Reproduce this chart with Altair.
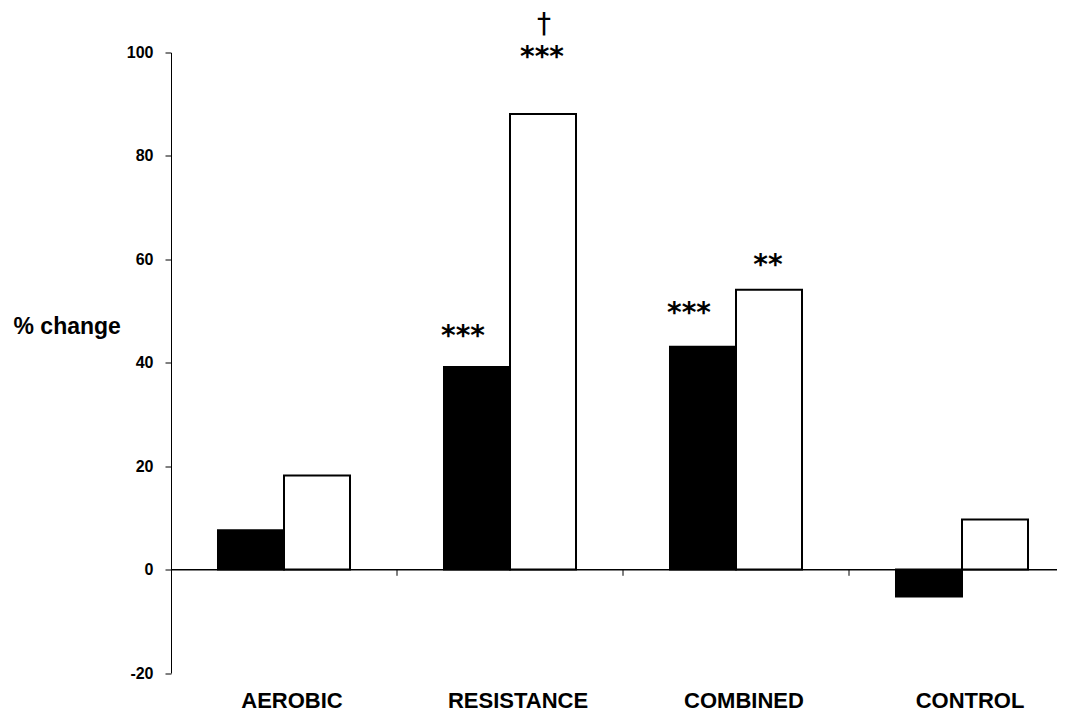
import altair as alt
import pandas as pd

categories = ["AEROBIC", "RESISTANCE", "COMBINED", "CONTROL"]
series = ["Series 1", "Series 2"]
series1_values = [7.6, 39.2, 43.1, -5.2]
series2_values = [18.2, 88.1, 54.1, 9.7]
y_ticks = [-20, 0, 20, 40, 60, 80, 100]

annot_category = ["RESISTANCE", "RESISTANCE", "RESISTANCE", "COMBINED", "COMBINED"]
annot_series = ["Series 1", "Series 2", "Series 2", "Series 1", "Series 2"]
annot_text = ["***", "***", "\u2020", "***", "**"]
annot_level = [46.4, 100.3, 105.5, 50.8, 60.1]

boundary_categories = ["RESISTANCE", "COMBINED", "CONTROL"]

bars_df = pd.DataFrame({
    "category": categories * 2,
    "series": [series[0]] * 4 + [series[1]] * 4,
    "value": series1_values + series2_values,
})
annot_df = pd.DataFrame({
    "category": annot_category,
    "series": annot_series,
    "text": annot_text,
    "level": annot_level,
})
bound_df = pd.DataFrame({"category": boundary_categories, "y0": [0] * 3, "y1": [-1.2] * 3})

FONT = "Liberation Sans"

x_scale = alt.Scale(domain=categories, range=[0, 904], paddingInner=0, paddingOuter=0)
y_scale = alt.Scale(domain=[-20, 100], nice=False, zero=False)
off_scale = alt.Scale(domain=series, paddingOuter=0.712, paddingInner=0)

x_enc = alt.X("category:N", scale=x_scale, sort=categories,
              axis=alt.Axis(title=None, domain=False, ticks=False, tickSize=0,
                            labelFont=FONT, labelFontSize=22, labelFontWeight="bold",
                            labelColor="black", labelBaseline="alphabetic",
                            labelPadding=34, labelOffset=8, labelAngle=0))
y_enc = alt.Y("value:Q", scale=y_scale,
              axis=alt.Axis(values=y_ticks, title="% change", grid=False,
                            labelExpr="toString(datum.value)",
                            domainColor="black", domainWidth=1,
                            tickColor="black", tickSize=6, tickWidth=1,
                            labelFont=FONT, labelFontSize=16, labelFontWeight="bold",
                            labelColor="black", labelPadding=12,
                            titleFont=FONT, titleFontSize=23, titleFontWeight="bold",
                            titleColor="black", titleAngle=0, titleAlign="left",
                            titleBaseline="alphabetic", titleX=-158, titleY=280.5))

zero_line = alt.Chart(bars_df).mark_rule(color="black", strokeWidth=1).encode(
    y=alt.datum(0, scale=y_scale)
)

bound_ticks = alt.Chart(bound_df).mark_rule(color="black", strokeWidth=1).encode(
    x=alt.X("category:N", scale=x_scale, sort=categories, bandPosition=0),
    y=alt.Y("y0:Q", scale=y_scale),
    y2="y1:Q",
)

bars = alt.Chart(bars_df).mark_bar(stroke="black", strokeWidth=2).encode(
    x=x_enc,
    xOffset=alt.XOffset("series:N", scale=off_scale, sort=series),
    y=y_enc,
    fill=alt.Fill("series:N", scale=alt.Scale(domain=series, range=["black", "white"]), legend=None),
)

def stars(filter_expr, dx, dy, size, text_font="DejaVu Sans", weight="bold"):
    return alt.Chart(annot_df).transform_filter(filter_expr).mark_text(
        font=text_font, fontSize=size, fontWeight=weight, color="black",
        baseline="middle", dx=dx, dy=dy,
    ).encode(
        x=alt.X("category:N", scale=x_scale, sort=categories),
        xOffset=alt.XOffset("series:N", scale=off_scale, sort=series),
        y=alt.Y("level:Q", scale=y_scale),
        text="text:N",
    )

stars_1 = stars((alt.datum.series == series[0]) & (alt.datum.text != "\u2020"), -14, 7, 28)
stars_2 = stars((alt.datum.series == series[1]) & (alt.datum.text != "\u2020"), -1, 7, 28)
dagger = stars(alt.datum.text == "\u2020", 1, 1, 28, weight="normal")

chart = alt.layer(zero_line, bars, bound_ticks, stars_1, stars_2, dagger).properties(
    width=886,
    height=620.5,
    autosize=alt.AutoSizeParams(type="none"),
    padding={"left": 163, "top": 44.5, "right": 0, "bottom": 39},
    background="white",
).configure_view(stroke=None)

chart.save("out.html", embed_options={"renderer": "svg", "actions": False})
